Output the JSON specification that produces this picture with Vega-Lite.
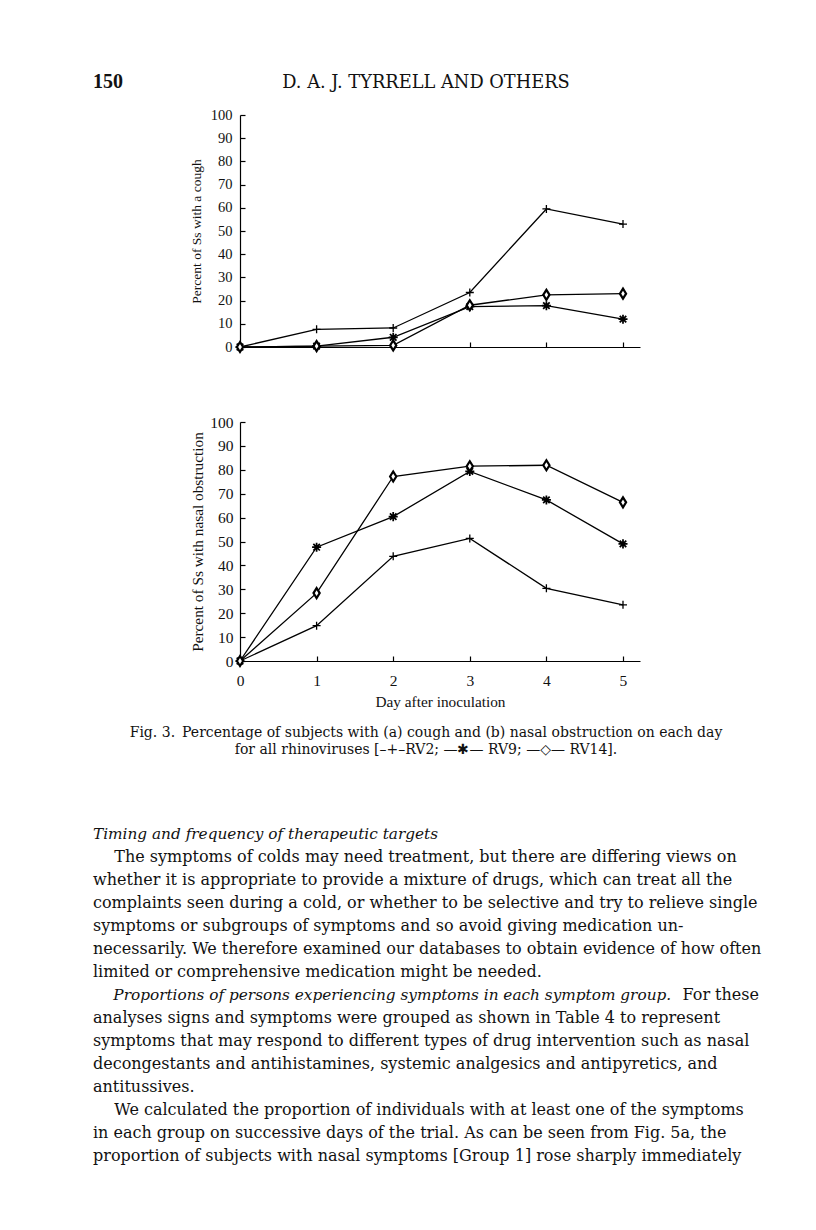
{
  "$schema": "https://vega.github.io/schema/vega-lite/v6.json",
  "background": "white",
  "padding": {"left": 93, "top": 61, "right": 0, "bottom": 0},
  "bounds": "flush",
  "spacing": 0,
  "datasets": {
    "cough": [
      {"virus": "RV2", "day": 0, "pct": 0}, {"virus": "RV2", "day": 1, "pct": 7.6}, {"virus": "RV2", "day": 2, "pct": 8.2},
      {"virus": "RV2", "day": 3, "pct": 23.5}, {"virus": "RV2", "day": 4, "pct": 59.5}, {"virus": "RV2", "day": 5, "pct": 53},
      {"virus": "RV9", "day": 0, "pct": 0}, {"virus": "RV9", "day": 1, "pct": 0.4}, {"virus": "RV9", "day": 2, "pct": 4.2},
      {"virus": "RV9", "day": 3, "pct": 17.4}, {"virus": "RV9", "day": 4, "pct": 17.8}, {"virus": "RV9", "day": 5, "pct": 12},
      {"virus": "RV14", "day": 0, "pct": 0}, {"virus": "RV14", "day": 1, "pct": 0.4}, {"virus": "RV14", "day": 2, "pct": 0.7},
      {"virus": "RV14", "day": 3, "pct": 18}, {"virus": "RV14", "day": 4, "pct": 22.5}, {"virus": "RV14", "day": 5, "pct": 23}
    ],
    "nasal": [
      {"virus": "RV2", "day": 0, "pct": 0}, {"virus": "RV2", "day": 1, "pct": 14.8}, {"virus": "RV2", "day": 2, "pct": 43.8},
      {"virus": "RV2", "day": 3, "pct": 51.3}, {"virus": "RV2", "day": 4, "pct": 30.4}, {"virus": "RV2", "day": 5, "pct": 23.5},
      {"virus": "RV9", "day": 0, "pct": 0}, {"virus": "RV9", "day": 1, "pct": 47.6}, {"virus": "RV9", "day": 2, "pct": 60.4},
      {"virus": "RV9", "day": 3, "pct": 79.3}, {"virus": "RV9", "day": 4, "pct": 67.4}, {"virus": "RV9", "day": 5, "pct": 49},
      {"virus": "RV14", "day": 0, "pct": 0}, {"virus": "RV14", "day": 1, "pct": 28.4}, {"virus": "RV14", "day": 2, "pct": 77.2},
      {"virus": "RV14", "day": 3, "pct": 81.5}, {"virus": "RV14", "day": 4, "pct": 81.9}, {"virus": "RV14", "day": 5, "pct": 66.4}
    ]
  },
  "vconcat": [
    {
      "width": 666,
      "height": 54,
      "data": {"values": [{"page": "150", "running": "D. A. J. TYRRELL AND OTHERS"}]},
      "layer": [
        {
          "mark": {"type": "text", "align": "left", "baseline": "alphabetic", "font": "Liberation Serif", "fontSize": 20, "fontWeight": "bold", "color": "#111"},
          "encoding": {"text": {"field": "page"}, "x": {"value": 0}}
        },
        {
          "mark": {"type": "text", "align": "center", "baseline": "alphabetic", "font": "DejaVu Serif", "fontSize": 17.8, "color": "#111"},
          "encoding": {"text": {"field": "running"}}
        }
      ]
    },
    {
      "width": 547,
      "height": 232,
      "data": {"name": "cough"},
      "encoding": {
        "x": {
          "field": "day", "type": "quantitative",
          "scale": {"domain": [0, 5.222], "range": [147, 547], "nice": false, "zero": false},
          "axis": {"values": [0, 1, 2, 3, 4, 5], "labels": false, "title": null, "tickSize": -5, "grid": false}
        },
        "y": {
          "field": "pct", "type": "quantitative",
          "scale": {"domain": [0, 100], "nice": false},
          "axis": {
            "values": [0, 10, 20, 30, 40, 50, 60, 70, 80, 90, 100],
            "title": "Percent of Ss with a cough",
            "offset": -147, "tickSize": -5, "labelPadding": 13, "titlePadding": 7,
            "labelFontSize": 14.5, "titleFontSize": 13.5, "grid": false
          }
        }
      },
      "layer": [
        {"mark": {"type": "line", "color": "black", "strokeWidth": 1.3}, "encoding": {"detail": {"field": "virus"}}},
        {
          "mark": {"type": "point", "filled": true, "fill": "white", "stroke": "black", "opacity": 1},
          "encoding": {
            "shape": {"field": "virus", "scale": {"domain": ["RV2", "RV9", "RV14"], "range": ["M-1,0L1,0M0,-1L0,1", "M-1,0L1,0M0,-1L0,1M-0.72,-0.72L0.72,0.72M-0.72,0.72L0.72,-0.72", "M0,-1L0.62,0L0,1L-0.62,0Z"]}, "legend": null},
            "size": {"field": "virus", "scale": {"domain": ["RV2", "RV9", "RV14"], "range": [64, 100, 100]}, "legend": null},
            "strokeWidth": {"field": "virus", "scale": {"domain": ["RV2", "RV9", "RV14"], "range": [1.3, 2.2, 1.0]}, "legend": null}
          }
        }
      ]
    },
    {
      "width": 547,
      "height": 75,
      "data": {"values": [{}]},
      "mark": {"type": "text", "text": ""}
    },
    {
      "width": 547,
      "height": 239,
      "data": {"name": "nasal"},
      "encoding": {
        "x": {
          "field": "day", "type": "quantitative",
          "scale": {"domain": [0, 5.222], "range": [147, 547], "nice": false, "zero": false},
          "axis": {"values": [0, 1, 2, 3, 4, 5], "title": "Day after inoculation", "tickSize": -5, "labelPadding": 17, "labelFlush": false, "titlePadding": 6, "labelFontSize": 15.5, "titleFontSize": 15.3, "grid": false}
        },
        "y": {
          "field": "pct", "type": "quantitative",
          "scale": {"domain": [0, 100], "nice": false},
          "axis": {
            "values": [0, 10, 20, 30, 40, 50, 60, 70, 80, 90, 100],
            "title": "Percent of Ss with nasal obstruction",
            "offset": -147, "tickSize": -5, "labelPadding": 12, "titlePadding": 4,
            "labelFontSize": 15.5, "titleFontSize": 15.3, "grid": false
          }
        }
      },
      "layer": [
        {"mark": {"type": "line", "color": "black", "strokeWidth": 1.3}, "encoding": {"detail": {"field": "virus"}}},
        {
          "mark": {"type": "point", "filled": true, "fill": "white", "stroke": "black", "opacity": 1},
          "encoding": {
            "shape": {"field": "virus", "scale": {"domain": ["RV2", "RV9", "RV14"], "range": ["M-1,0L1,0M0,-1L0,1", "M-1,0L1,0M0,-1L0,1M-0.72,-0.72L0.72,0.72M-0.72,0.72L0.72,-0.72", "M0,-1L0.62,0L0,1L-0.62,0Z"]}, "legend": null},
            "size": {"field": "virus", "scale": {"domain": ["RV2", "RV9", "RV14"], "range": [64, 100, 100]}, "legend": null},
            "strokeWidth": {"field": "virus", "scale": {"domain": ["RV2", "RV9", "RV14"], "range": [1.3, 2.2, 1.0]}, "legend": null}
          }
        }
      ]
    },
    {
      "width": 666,
      "height": 169,
      "data": {"values": [
        {"line": 0, "text": "Fig. 3.\u2002Percentage of subjects with (a) cough and (b) nasal obstruction on each day"},
        {"line": 1, "text": "for all rhinoviruses [\u2013+\u2013RV2; \u2014\u2731\u2014 RV9; \u2014\u25c7\u2014 RV14]."}
      ]},
      "mark": {"type": "text", "align": "center", "baseline": "alphabetic", "font": "DejaVu Serif", "fontSize": 14, "color": "#111"},
      "encoding": {
        "text": {"field": "text"},
        "y": {"field": "line", "type": "quantitative", "scale": {"domain": [-4.4706, 5.4706], "reverse": true, "nice": false, "zero": false}, "axis": null}
      }
    },
    {
      "width": 666,
      "height": 340,
      "data": {"values": [
        {"line": 0, "role": "italic", "text": "Timing and frequency of therapeutic targets"},
        {"line": 1, "role": "plain", "text": "\u200b\u2003\u2004The symptoms of colds may need treatment, but there are differing views on"},
        {"line": 2, "role": "plain", "text": "whether it is appropriate to provide a mixture of drugs, which can treat all the"},
        {"line": 3, "role": "plain", "text": "complaints seen during a cold, or whether to be selective and try to relieve single"},
        {"line": 4, "role": "plain", "text": "symptoms or subgroups of symptoms and so avoid giving medication un-"},
        {"line": 5, "role": "plain", "text": "necessarily. We therefore examined our databases to obtain evidence of how often"},
        {"line": 6, "role": "plain", "text": "limited or comprehensive medication might be needed."},
        {"line": 7, "role": "italic", "text": "\u200b\u2003\u2004Proportions of persons experiencing symptoms in each symptom group."},
        {"line": 7, "role": "tail", "text": "For these"},
        {"line": 8, "role": "plain", "text": "analyses signs and symptoms were grouped as shown in Table 4 to represent"},
        {"line": 9, "role": "plain", "text": "symptoms that may respond to different types of drug intervention such as nasal"},
        {"line": 10, "role": "plain", "text": "decongestants and antihistamines, systemic analgesics and antipyretics, and"},
        {"line": 11, "role": "plain", "text": "antitussives."},
        {"line": 12, "role": "plain", "text": "\u200b\u2003\u2004We calculated the proportion of individuals with at least one of the symptoms"},
        {"line": 13, "role": "plain", "text": "in each group on successive days of the trial. As can be seen from Fig. 5a, the"},
        {"line": 14, "role": "plain", "text": "proportion of subjects with nasal symptoms [Group 1] rose sharply immediately"}
      ]},
      "encoding": {
        "text": {"field": "text"},
        "y": {"field": "line", "type": "quantitative", "scale": {"domain": [-0.378, 14.405], "reverse": true, "nice": false, "zero": false}, "axis": null}
      },
      "layer": [
        {
          "transform": [{"filter": "datum.role === 'plain'"}],
          "mark": {"type": "text", "align": "left", "baseline": "alphabetic", "font": "DejaVu Serif", "fontSize": 16, "color": "#111"},
          "encoding": {"x": {"value": 0}}
        },
        {
          "transform": [{"filter": "datum.role === 'italic'"}],
          "mark": {"type": "text", "align": "left", "baseline": "alphabetic", "font": "DejaVu Serif", "fontSize": 15.3, "fontStyle": "italic", "color": "#111"},
          "encoding": {"x": {"value": 0}}
        },
        {
          "transform": [{"filter": "datum.role === 'tail'"}],
          "mark": {"type": "text", "align": "right", "baseline": "alphabetic", "font": "DejaVu Serif", "fontSize": 16, "color": "#111"},
          "encoding": {"x": {"value": "width"}}
        }
      ]
    }
  ],
  "config": {
    "view": {"stroke": null},
    "axis": {
      "labelFont": "Liberation Serif", "titleFont": "Liberation Serif",
      "labelColor": "#111", "titleColor": "#111", "titleFontWeight": "normal",
      "domainColor": "black", "tickColor": "black", "domainWidth": 1.2, "tickWidth": 1.2
    }
  }
}
